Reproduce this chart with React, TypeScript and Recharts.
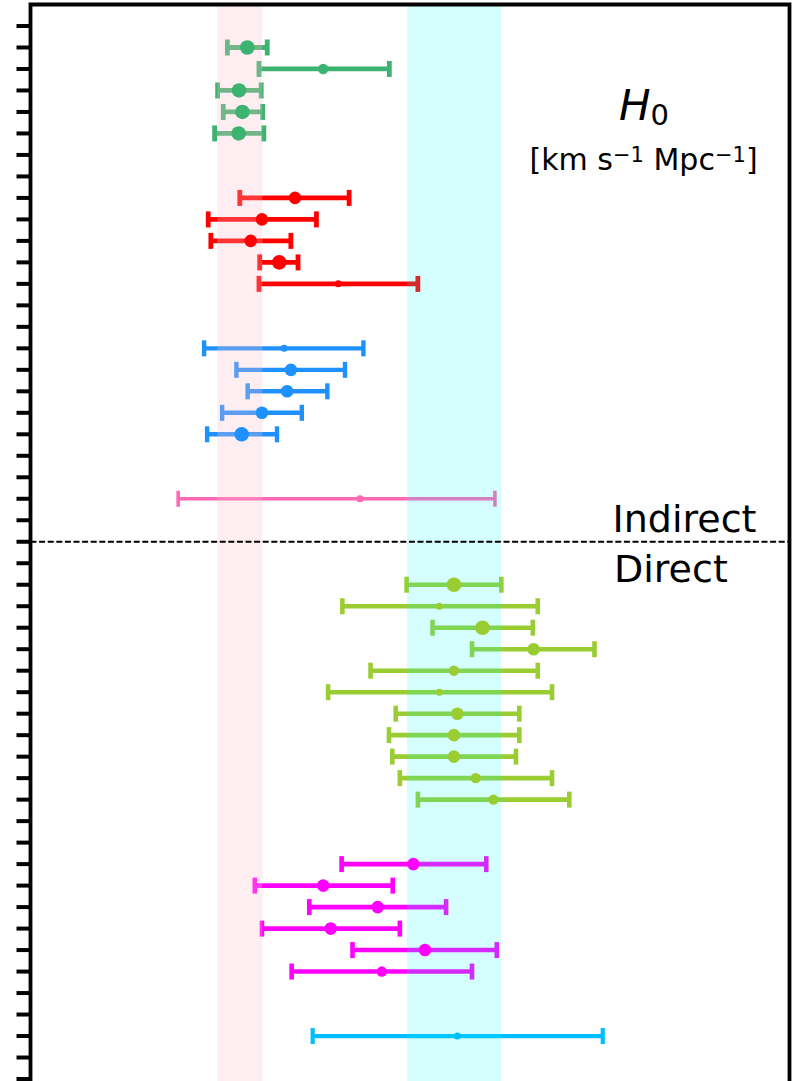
import React from "react";
import {
  ScatterChart,
  Scatter,
  XAxis,
  YAxis,
  ErrorBar,
  ReferenceArea,
  ReferenceLine,
} from "recharts";

// --- Data: [row, H0, lower bound, upper bound, weight] ---

const cmbRows = [
  [1, 67.47, 66.94, 68.0, 4],
  [2, 69.49, 67.78, 71.25, 2],
  [3, 67.25, 66.68, 67.84, 4],
  [4, 67.34, 66.83, 67.88, 4],
  [5, 67.24, 66.6, 67.91, 4],
];

const baoRows = [
  [8, 68.74, 67.27, 70.18, 3],
  [9, 67.86, 66.43, 69.31, 3],
  [10, 67.56, 66.5, 68.63, 3],
  [11, 68.32, 67.8, 68.82, 4],
  [12, 69.89, 67.78, 72.01, 1],
];

const bbnRows = [
  [15, 68.45, 66.32, 70.56, 1],
  [16, 68.63, 67.18, 70.07, 3],
  [17, 68.53, 67.48, 69.6, 3],
  [18, 67.86, 66.8, 68.92, 3],
  [19, 67.32, 66.4, 68.26, 4],
];

const otherIndirectRows = [[22, 70.47, 65.63, 74.06, 1]];

const cepheidRows = [
  [26, 72.97, 71.71, 74.23, 4],
  [27, 72.58, 70.0, 75.2, 1],
  [28, 73.73, 72.4, 75.07, 4],
  [29, 75.09, 73.45, 76.71, 3],
  [30, 72.97, 70.75, 75.2, 2],
  [31, 72.58, 69.62, 75.58, 1],
  [32, 73.06, 71.42, 74.71, 3],
  [33, 72.97, 71.24, 74.71, 3],
  [34, 72.97, 71.33, 74.62, 3],
  [35, 73.55, 71.53, 75.58, 2],
  [36, 74.02, 72.01, 76.04, 2],
];

const trgbRows = [
  [39, 71.89, 69.98, 73.83, 3],
  [40, 69.49, 67.67, 71.34, 3],
  [41, 70.94, 69.12, 72.76, 3],
  [42, 69.69, 67.86, 71.53, 3],
  [43, 72.2, 70.27, 74.11, 3],
  [44, 71.05, 68.65, 73.45, 2],
];

const otherDirectRows = [[47, 73.06, 69.21, 76.93, 1]];

// bands: [centre, half width]
const planckBand = [67.27, 0.6];
const shoesBand = [72.97, 1.25];

const h0Domain = [61.7, 81.9];
const rowDomain = [-1, 50];
const dividerRow = 24;
const rowTicks = [
  0, 1, 2, 3, 4, 5, 6, 7, 8, 9, 10, 11, 12, 13, 14, 15, 16, 17, 18, 19, 20,
  21, 22, 23, 24, 25, 26, 27, 28, 29, 30, 31, 32, 33, 34, 35, 36, 37, 38, 39,
  40, 41, 42, 43, 44, 45, 46, 47, 48, 49,
];

const toPoints = (rows: number[][]) =>
  rows.map(([row, h, lo, hi, w]) => ({ row, h, err: [h - lo, hi - h], w }));

const RADIUS: Record<number, number> = { 1: 3.5, 2: 5.2, 3: 6.3, 4: 7.3 };

const groups = [
  { key: "cmb", rows: cmbRows, color: "#3cb371", lw: 4.8 },
  { key: "bao", rows: baoRows, color: "#ff0000", lw: 4.8 },
  { key: "bbn", rows: bbnRows, color: "#1e90ff", lw: 4.4 },
  { key: "oi", rows: otherIndirectRows, color: "#ff69b4", lw: 3.6 },
  { key: "ceph", rows: cepheidRows, color: "#9acd32", lw: 4.6 },
  { key: "trgb", rows: trgbRows, color: "#ff00ff", lw: 4.6 },
  { key: "od", rows: otherDirectRows, color: "#00bfff", lw: 4.2 },
];

const font = "'DejaVu Sans', sans-serif";

export default function App() {
  return (
    <div
      style={{
        position: "absolute",
        left: 0,
        top: 0,
        width: 798,
        height: 1081,
        overflow: "hidden",
        background: "#fff",
      }}
    >
      <ScatterChart
        width={798}
        height={1106}
        margin={{ top: 4.5, right: 8.5, bottom: 5.5, left: 14.5 }}
      >
        <XAxis
          type="number"
          dataKey="h"
          domain={h0Domain}
          allowDataOverflow
          hide
        />
        <YAxis
          type="number"
          dataKey="row"
          domain={rowDomain}
          reversed
          ticks={rowTicks}
          interval={0}
          tick={() => <g />}
          tickSize={14}
          tickLine={{ stroke: "#000", strokeWidth: 4 }}
          axisLine={false}
          width={16}
        />
        {/* error bars sit under the bands */}
        {groups.map((g) => (
          <Scatter
            key={g.key + "-err"}
            data={toPoints(g.rows)}
            isAnimationActive={false}
            shape={() => <g />}
          >
            <ErrorBar
              dataKey="err"
              direction="x"
              width={8}
              strokeWidth={g.lw}
              stroke={g.color}
              style={{ strokeWidth: g.lw }}
              isAnimationActive={false}
            />
          </Scatter>
        ))}
        <ReferenceArea
          x1={planckBand[0] - planckBand[1]}
          x2={planckBand[0] + planckBand[1]}
          y1={rowDomain[0]}
          y2={rowDomain[1]}
          fill="#ffc0cb"
          fillOpacity={0.27}
          stroke="none"
          zIndex={1000}
        />
        <ReferenceArea
          x1={shoesBand[0] - shoesBand[1]}
          x2={shoesBand[0] + shoesBand[1]}
          y1={rowDomain[0]}
          y2={rowDomain[1]}
          fill="#00ffff"
          fillOpacity={0.165}
          stroke="none"
          zIndex={1000}
        />
        {/* markers above the bands */}
        {groups.map((g) => (
          <Scatter
            key={g.key + "-dot"}
            data={toPoints(g.rows)}
            isAnimationActive={false}
            zIndex={1050}
            shape={(p: any) => (
              <circle
                cx={p.cx}
                cy={p.cy}
                r={RADIUS[p.payload.w]}
                fill={g.color}
              />
            )}
          />
        ))}
        <ReferenceLine
          y={dividerRow}
          stroke="#000"
          strokeWidth={1.8}
          strokeDasharray="6 2.6"
          zIndex={1100}
        />
        <ReferenceArea
          x1={h0Domain[0]}
          x2={h0Domain[1]}
          y1={rowDomain[0]}
          y2={rowDomain[1]}
          fill="none"
          stroke="#000"
          strokeWidth={3.8}
          ifOverflow="visible"
          zIndex={1100}
        />
      </ScatterChart>
      <svg
        width={798}
        height={1081}
        style={{ position: "absolute", left: 0, top: 0, pointerEvents: "none" }}
      >
        <text x={619} y={120} fontFamily={font} fontSize={42} fill="#000">
          <tspan fontStyle="italic">H</tspan>
          <tspan fontSize={29} dy={5}>
            0
          </tspan>
        </text>
        <text x={529.5} y={170} fontFamily={font} fontSize={30} fill="#000">
          <tspan>[km s</tspan>
          <tspan fontSize={21} dy={-8.5}>
            −1
          </tspan>
          <tspan dy={8.5}> Mpc</tspan>
          <tspan fontSize={21} dy={-8.5}>
            −1
          </tspan>
          <tspan dy={8.5}>]</tspan>
        </text>
        <text x={612.5} y={531.5} fontFamily={font} fontSize={38} fill="#000">
          Indirect
        </text>
        <text x={614} y={581.5} fontFamily={font} fontSize={38} fill="#000">
          Direct
        </text>
      </svg>
    </div>
  );
}
